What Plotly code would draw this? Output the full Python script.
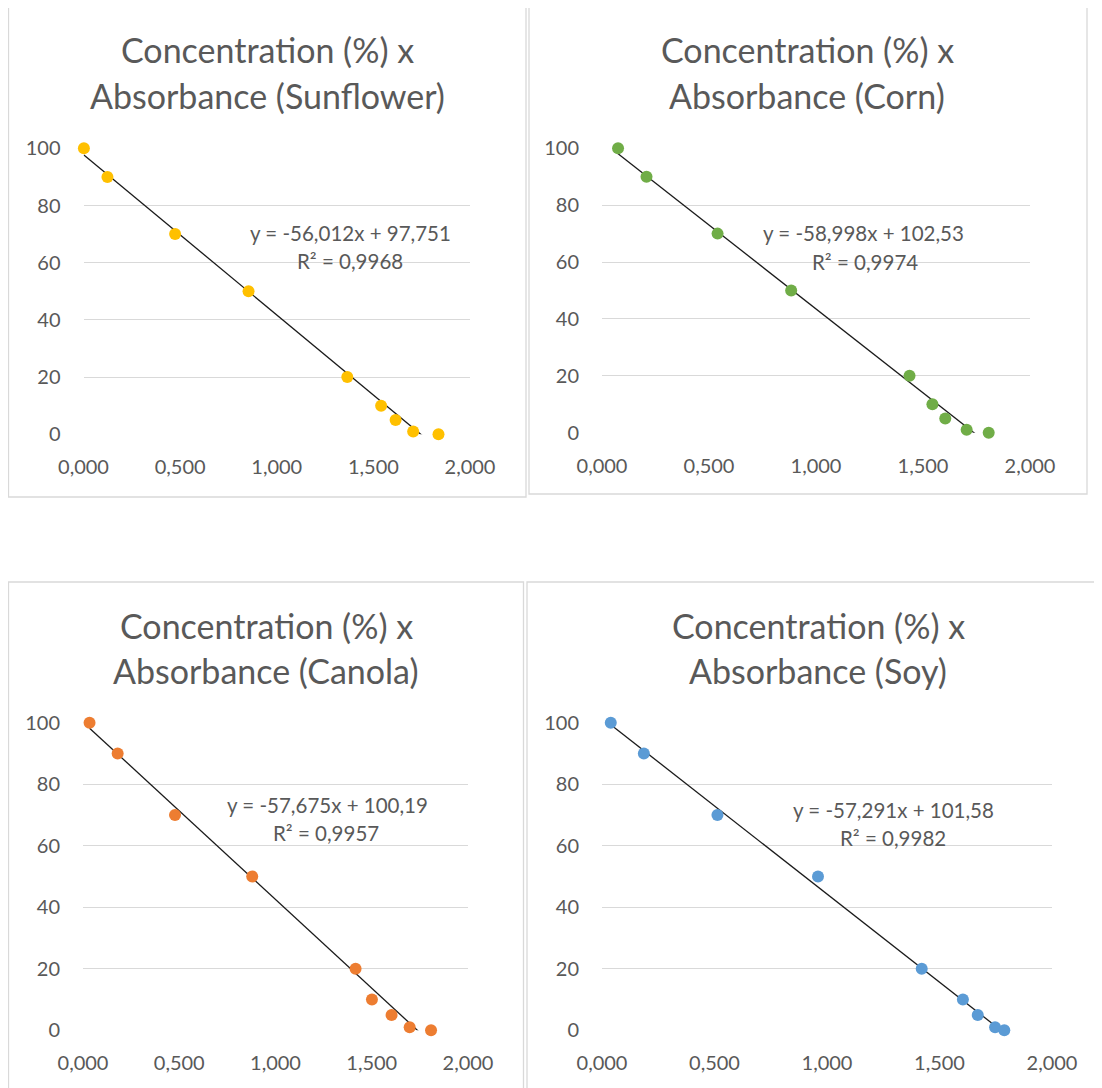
import plotly.graph_objects as go

# ---------------- data ----------------
concentration = [100, 90, 70, 50, 20, 10, 5, 1, 0]

sunflower_abs = [0.002, 0.124, 0.474, 0.854, 1.365, 1.540, 1.615, 1.706, 1.837]
corn_abs = [0.075, 0.208, 0.540, 0.884, 1.437, 1.544, 1.604, 1.704, 1.807]
canola_abs = [0.034, 0.180, 0.478, 0.879, 1.416, 1.501, 1.603, 1.697, 1.808]
soy_abs = [0.039, 0.186, 0.513, 0.960, 1.421, 1.604, 1.670, 1.747, 1.788]

oil_names = ["Sunflower", "Corn", "Canola", "Soy"]
slopes = [-56.012, -58.998, -57.675, -57.291]
intercepts = [97.751, 102.53, 100.19, 101.58]
equation_texts = ["y = -56,012x + 97,751", "y = -58,998x + 102,53",
                  "y = -57,675x + 100,19", "y = -57,291x + 101,58"]
r2_texts = ["R² = 0,9968", "R² = 0,9974", "R² = 0,9957", "R² = 0,9982"]

x_tickvals = [0, 0.5, 1.0, 1.5, 2.0]
x_ticktext = ["0,000", "0,500", "1,000", "1,500", "2,000"]
y_tickvals = [0, 20, 40, 60, 80, 100]
y_ticktext = ["0", "20", "40", "60", "80", "100"]

# ---------------- layout helpers ----------------
OFF = 8  # default page body margin
W, H = 1102 - OFF, 1088 - OFF
FONT = "Lato"
GREY = "#595959"
colors = ["#FFC000", "#70AD47", "#ED7D31", "#5B9BD5"]
absorbances = [sunflower_abs, corn_abs, canola_abs, soy_abs]

# plot-area pixel boxes (page pixels): (left, right, top, bottom)
plot_px = [(83.5, 470, 148.3, 434.3),
           (602, 1030, 148.3, 432.7),
           (83, 468, 722.7, 1030.3),
           (602, 1052, 722.7, 1030.3)]
# chart frames in page pixels: (left, right, top, bottom)
frames_px = [(8.5, 526, 6.5, 497),
             (529, 1087, 6.5, 494),
             (8.5, 523.5, 582, 1100),
             (527, 1110, 582, 1100)]
title_px = [(267, 50, 95), (807, 50, 95), (266, 625, 670), (818, 625, 670)]
eq_px = [((350, 233), (350, 261)), ((863, 233), (865, 262)),
         ((327, 805), (326, 833)), ((893, 810), (893, 838))]


def px(x):
    return (x - OFF) / W


def py(y):
    return 1 - (y - OFF) / H


fig = go.Figure()
annotations = []
shapes = []

for i in range(4):
    ax = "" if i == 0 else str(i + 1)
    xa, ya = "x" + ax, "y" + ax
    xs = absorbances[i]
    # trendline from the fitted equation over the data x-range
    x_line = [min(xs), max(xs)]
    y_line = [slopes[i] * v + intercepts[i] for v in x_line]
    fig.add_trace(go.Scatter(x=x_line, y=y_line, mode="lines",
                             line=dict(color="#1a1a1a", width=1.3),
                             xaxis=xa, yaxis=ya, showlegend=False,
                             hoverinfo="skip"))
    fig.add_trace(go.Scatter(x=xs, y=concentration, mode="markers",
                             marker=dict(color=colors[i], size=12),
                             cliponaxis=False,
                             xaxis=xa, yaxis=ya, showlegend=False,
                             name=oil_names[i]))

    l, r, t, b = plot_px[i]
    axis_common = dict(showline=False, zeroline=False, ticks="",
                       automargin=False,
                       tickfont=dict(family=FONT, size=20, color=GREY))
    fig.layout["xaxis" + ax] = dict(
        domain=[px(l), px(r)], anchor=ya, range=[0, 2],
        tickvals=x_tickvals, ticktext=x_ticktext, showgrid=False,
        ticklabelstandoff=19, **axis_common)
    fig.layout["yaxis" + ax] = dict(
        domain=[py(b), py(t)], anchor=xa, range=[0, 100],
        tickvals=y_tickvals, ticktext=y_ticktext, showgrid=True,
        gridcolor="#d9d9d9", gridwidth=1, ticklabelstandoff=22,
        **axis_common)

    # frame
    fl, fr, ft, fb = frames_px[i]
    shapes.append(dict(type="rect", xref="paper", yref="paper",
                       x0=px(fl), x1=px(fr), y0=py(fb), y1=py(ft),
                       line=dict(color="#d9d9d9", width=1.3),
                       fillcolor="rgba(0,0,0,0)", layer="below"))

    # title (two lines)
    tx, ty1, ty2 = title_px[i]
    for text, ty in [("Concentration (%) x", ty1),
                     ("Absorbance (" + oil_names[i] + ")", ty2)]:
        annotations.append(dict(text=text, x=px(tx), y=py(ty),
                                xref="paper", yref="paper",
                                xanchor="center", yanchor="middle",
                                showarrow=False,
                                font=dict(family=FONT, size=34, color=GREY)))
    # equation + R²
    (ex1, ey1), (ex2, ey2) = eq_px[i]
    for text, ex, ey in [(equation_texts[i], ex1, ey1), (r2_texts[i], ex2, ey2)]:
        annotations.append(dict(text=text, x=px(ex), y=py(ey),
                                xref="paper", yref="paper",
                                xanchor="center", yanchor="middle",
                                showarrow=False,
                                font=dict(family=FONT, size=20.5, color=GREY)))

fig.update_layout(template="none", width=W, height=H,
                  margin=dict(l=0, r=0, t=0, b=0, pad=0, autoexpand=False),
                  paper_bgcolor="white", plot_bgcolor="white",
                  annotations=annotations, shapes=shapes, showlegend=False)

fig.write_html("out.html")
